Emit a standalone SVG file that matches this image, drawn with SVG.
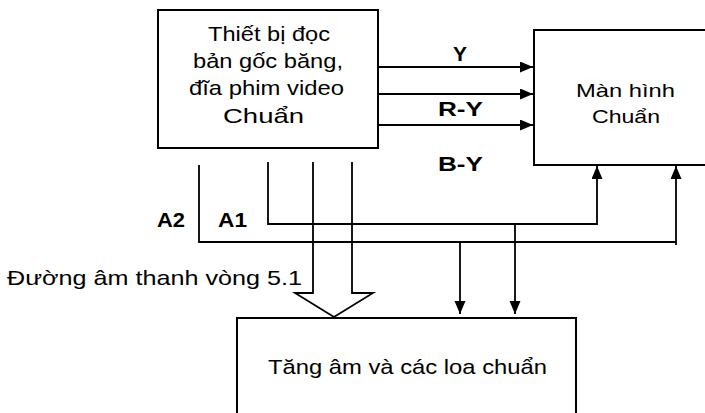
<svg xmlns="http://www.w3.org/2000/svg" width="705" height="413" viewBox="0 0 705 413">
<style>
.box{fill:#fff;stroke:#000;stroke-width:2}
.ln{fill:none;stroke:#000;stroke-width:1.8}
.t{font-family:"Liberation Sans",Arial,sans-serif;fill:#000}
.b{font-family:"Liberation Sans",Arial,sans-serif;font-weight:bold;fill:#000}
</style>
<defs>
<marker id="ah" markerUnits="userSpaceOnUse" markerWidth="14" markerHeight="12" refX="13" refY="5.5" orient="auto">
<path d="M0,0 L13,5.5 L0,11 z" fill="#000"/>
</marker>
</defs>
<rect width="705" height="413" fill="#fff"/>
<g id="player">
<rect class="box" x="158" y="10" width="220" height="138"/>
<text class="t" font-size="21" x="208" y="41" textLength="122" lengthAdjust="spacingAndGlyphs">Thiết bị đọc</text>
<text class="t" font-size="21" x="193" y="68" textLength="150" lengthAdjust="spacingAndGlyphs">bản gốc băng,</text>
<text class="t" font-size="21" x="189" y="95" textLength="155" lengthAdjust="spacingAndGlyphs">đĩa phim video</text>
<text class="t" font-size="21" x="223" y="123" textLength="81" lengthAdjust="spacingAndGlyphs">Chuẩn</text>
</g>
<g id="monitor">
<rect class="box" x="534" y="30" width="180" height="135"/>
<text class="t" font-size="19" x="576" y="97" textLength="99" lengthAdjust="spacingAndGlyphs">Màn hình</text>
<text class="t" font-size="19" x="592" y="123" textLength="68" lengthAdjust="spacingAndGlyphs">Chuẩn</text>
</g>
<g id="amplifier">
<rect class="box" x="237" y="318" width="339" height="110"/>
<text class="t" font-size="21" x="268" y="374" textLength="279" lengthAdjust="spacingAndGlyphs">Tăng âm và các loa chuẩn</text>
</g>
<g id="connectors">
<line class="ln" x1="378" y1="67" x2="533" y2="67" marker-end="url(#ah)"/>
<line class="ln" x1="378" y1="94" x2="533" y2="94" marker-end="url(#ah)"/>
<line class="ln" x1="378" y1="125" x2="533" y2="125" marker-end="url(#ah)"/>
<polyline class="ln" points="268,162 268,224 597,224 597,166" marker-end="url(#ah)"/>
<polyline class="ln" points="199,165 199,242 676,242 676,166" marker-end="url(#ah)"/>
<line class="ln" x1="676" y1="242" x2="676" y2="245"/>
<line class="ln" x1="460" y1="242" x2="460" y2="314" marker-end="url(#ah)"/>
<line class="ln" x1="515" y1="224" x2="515" y2="314" marker-end="url(#ah)"/>
<polyline class="ln" points="313,162 313,293 295,293 334,317 373,293 352,293 352,162"/>
</g>
<g id="labels">
<text class="b" font-size="20" x="453" y="61" textLength="14" lengthAdjust="spacingAndGlyphs">Y</text>
<text class="b" font-size="20" x="438" y="116" textLength="45" lengthAdjust="spacingAndGlyphs">R-Y</text>
<text class="b" font-size="20" x="438" y="171" textLength="45" lengthAdjust="spacingAndGlyphs">B-Y</text>
<text class="b" font-size="20" x="157" y="227" textLength="28" lengthAdjust="spacingAndGlyphs">A2</text>
<text class="b" font-size="20" x="218" y="227" textLength="29" lengthAdjust="spacingAndGlyphs">A1</text>
<text class="t" font-size="21" x="7" y="285" textLength="295" lengthAdjust="spacingAndGlyphs">Đường âm thanh vòng 5.1</text>
</g>
</svg>
